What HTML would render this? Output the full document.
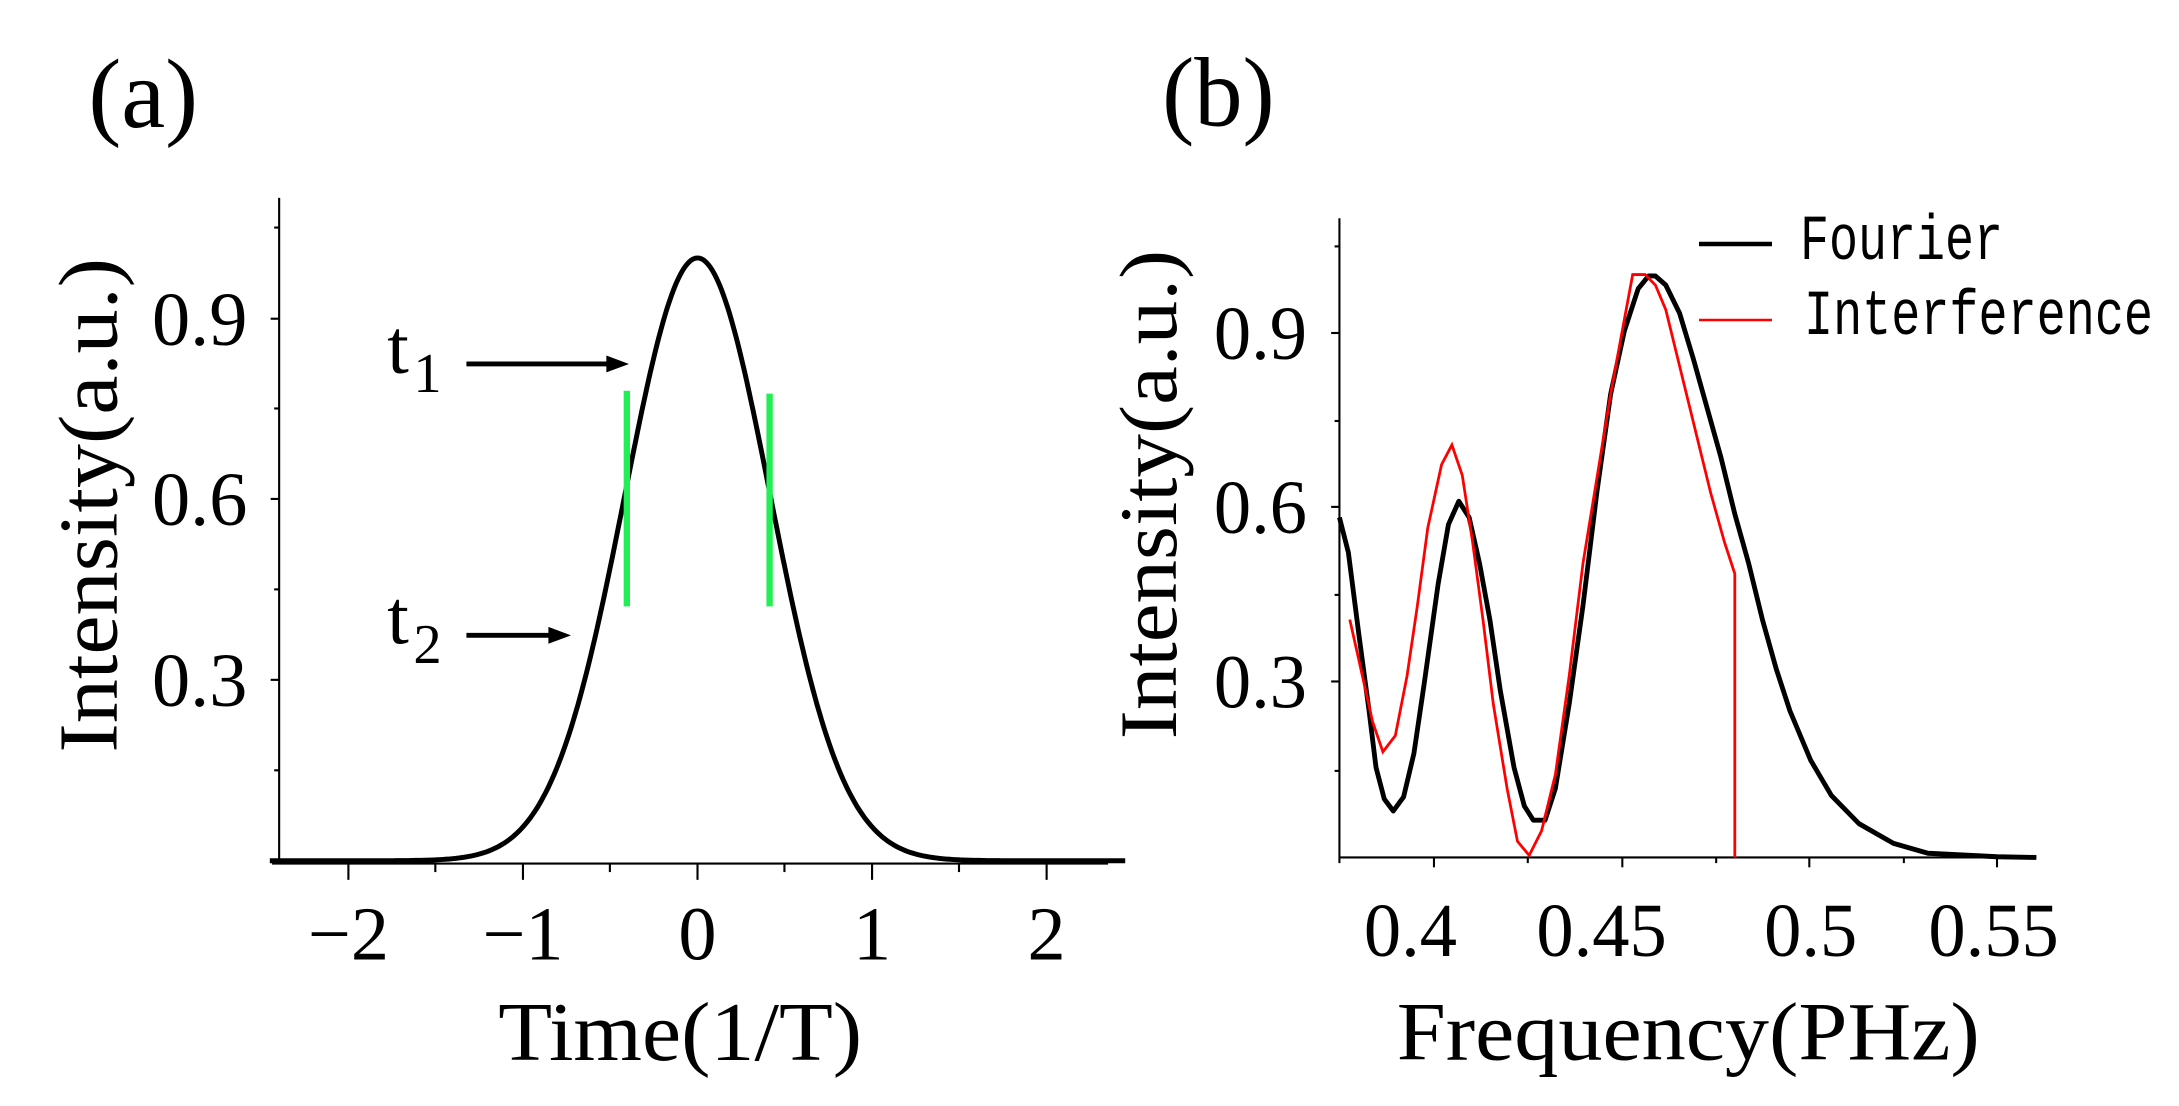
<!DOCTYPE html>
<html><head><meta charset="utf-8"><style>html,body{margin:0;padding:0;background:#fff}svg{display:block}</style></head>
<body>
<svg width="2179" height="1106" viewBox="0 0 2179 1106" xmlns="http://www.w3.org/2000/svg">
<rect width="2179" height="1106" fill="#fff"/>
<g transform="scale(0.7067)" font-family="Liberation Serif, serif" fill="#000">
  <text x="125" y="180" font-size="140">(a)</text>
  <line x1="395" y1="280" x2="395" y2="1222" stroke="#000" stroke-width="3"/>
  <line x1="385" y1="1222" x2="1568" y2="1222" stroke="#000" stroke-width="3"/>
  <g stroke="#000" stroke-width="3">
    <line x1="383" y1="451" x2="395" y2="451"/><line x1="383" y1="706" x2="395" y2="706"/><line x1="383" y1="962" x2="395" y2="962"/><line x1="383" y1="1218" x2="395" y2="1218"/>
    <line x1="388" y1="322" x2="395" y2="322"/><line x1="388" y1="578" x2="395" y2="578"/><line x1="388" y1="834" x2="395" y2="834"/><line x1="388" y1="1090" x2="395" y2="1090"/>
    <line x1="493" y1="1222" x2="493" y2="1245"/><line x1="740" y1="1222" x2="740" y2="1245"/><line x1="987" y1="1222" x2="987" y2="1245"/><line x1="1234" y1="1222" x2="1234" y2="1245"/><line x1="1481" y1="1222" x2="1481" y2="1245"/>
    <line x1="616" y1="1222" x2="616" y2="1234"/><line x1="863" y1="1222" x2="863" y2="1234"/><line x1="1110" y1="1222" x2="1110" y2="1234"/><line x1="1357" y1="1222" x2="1357" y2="1234"/>
  </g>
  <g font-size="108" text-anchor="end">
    <text x="350" y="488">0.9</text><text x="350" y="743">0.6</text><text x="350" y="999">0.3</text>
  </g>
  <g font-size="108" text-anchor="middle">
    <text x="493" y="1358">−2</text><text x="740" y="1358">−1</text><text x="987" y="1358">0</text><text x="1234" y="1358">1</text><text x="1481" y="1358">2</text>
  </g>
  <text x="705" y="1500" font-size="118" textLength="515" lengthAdjust="spacingAndGlyphs">Time(1/T)</text>
  <text transform="translate(165,1065) rotate(-90)" font-size="118" textLength="700" lengthAdjust="spacingAndGlyphs">Intensity(a.u.)</text>
  <path id="gauss" fill="none" stroke="#000" stroke-width="7" d=""/>
  <line x1="887" y1="553" x2="887" y2="858" stroke="#22ee55" stroke-width="9"/>
  <line x1="1089" y1="557" x2="1089" y2="858" stroke="#22ee55" stroke-width="9"/>
  <text x="548" y="527" font-size="110">t</text><text x="585" y="555" font-size="80">1</text>
  <text x="548" y="910" font-size="110">t</text><text x="585" y="938" font-size="80">2</text>
  <line x1="660" y1="515" x2="865" y2="515" stroke="#000" stroke-width="7"/><polygon points="890,515 858,503 858,527"/>
  <line x1="660" y1="899" x2="783" y2="899" stroke="#000" stroke-width="7"/><polygon points="808,899 776,887 776,911"/>
</g>
<g transform="translate(1100,0) scale(0.690,0.704)" font-family="Liberation Serif, serif" fill="#000">
  <text x="90" y="178" font-size="140">(b)</text>
  <line x1="347" y1="310" x2="347" y2="1218" stroke="#000" stroke-width="3"/>
  <line x1="347" y1="1218" x2="1357" y2="1218" stroke="#000" stroke-width="3"/>
  <g stroke="#000" stroke-width="3">
    <line x1="335" y1="473" x2="347" y2="473"/><line x1="335" y1="720" x2="347" y2="720"/><line x1="335" y1="968" x2="347" y2="968"/>
    <line x1="340" y1="350" x2="347" y2="350"/><line x1="340" y1="598" x2="347" y2="598"/><line x1="340" y1="845" x2="347" y2="845"/><line x1="340" y1="1095" x2="347" y2="1095"/>
    <line x1="484" y1="1218" x2="484" y2="1232"/><line x1="757" y1="1218" x2="757" y2="1232"/><line x1="1028" y1="1218" x2="1028" y2="1232"/><line x1="1300" y1="1218" x2="1300" y2="1232"/>
    <line x1="620" y1="1218" x2="620" y2="1226"/><line x1="893" y1="1218" x2="893" y2="1226"/><line x1="1165" y1="1218" x2="1165" y2="1226"/><line x1="347" y1="1218" x2="347" y2="1226"/>
  </g>
  <g font-size="108" text-anchor="end">
    <text x="300" y="510">0.9</text><text x="300" y="757">0.6</text><text x="300" y="1005">0.3</text>
  </g>
  <g font-size="108" text-anchor="middle">
    <text x="450" y="1358">0.4</text><text x="727" y="1358">0.45</text><text x="1030" y="1358">0.5</text><text x="1295" y="1358">0.55</text>
  </g>
  <text x="430" y="1505" font-size="118" textLength="845" lengthAdjust="spacingAndGlyphs">Frequency(PHz)</text>
  <text transform="translate(110,1050) rotate(-90)" font-size="118" textLength="695" lengthAdjust="spacingAndGlyphs">Intensity(a.u.)</text>
  <polyline fill="none" stroke="#000" stroke-width="7" stroke-linejoin="round" points="347,735 360,785 375,900 390,1010 400,1090 412,1135 425,1152 440,1132 455,1070 470,970 490,830 505,745 520,712 535,735 550,800 565,880 580,980 600,1090 615,1145 628,1165 645,1165 660,1120 680,1000 700,860 720,700 740,560 760,470 780,410 795,392 805,392 820,405 840,445 860,510 880,580 900,650 920,730 940,800 960,880 980,950 1000,1010 1030,1080 1060,1130 1100,1170 1150,1198 1200,1212 1300,1217 1357,1218"/>
  <polyline fill="none" stroke="#f00" stroke-width="4" points="362,880 378,950 395,1025 410,1068 428,1045 445,960 460,860 475,750 495,660 510,632 525,675 540,770 555,880 570,1000 590,1120 605,1195 622,1215 640,1180 660,1100 680,960 700,800 720,680 740,560 755,480 772,390 790,390 805,405 820,440 840,520 860,600 885,700 905,770 920,815 920,1218"/>
</g>
<line x1="1699" y1="244" x2="1772" y2="244" stroke="#000" stroke-width="4.5"/>
<line x1="1699" y1="320" x2="1772" y2="320" stroke="#f00" stroke-width="2.5"/>
<g font-family="Liberation Mono, monospace" font-size="64" fill="#000">
  <text x="1800" y="259" textLength="203" lengthAdjust="spacingAndGlyphs">Fourier</text>
  <text x="1804" y="334" textLength="349" lengthAdjust="spacingAndGlyphs">Interference</text>
</g>
<script>
var d="";for(var i=0;i<=400;i++){var u=-2.45+i*(4.9/400);var x=987+u*247;var y=1218-853*Math.exp(-2.88*u*u);d+=(i?"L":"M")+x.toFixed(1)+","+y.toFixed(1);}
document.getElementById("gauss").setAttribute("d",d);
</script>
</svg>
</body></html>
